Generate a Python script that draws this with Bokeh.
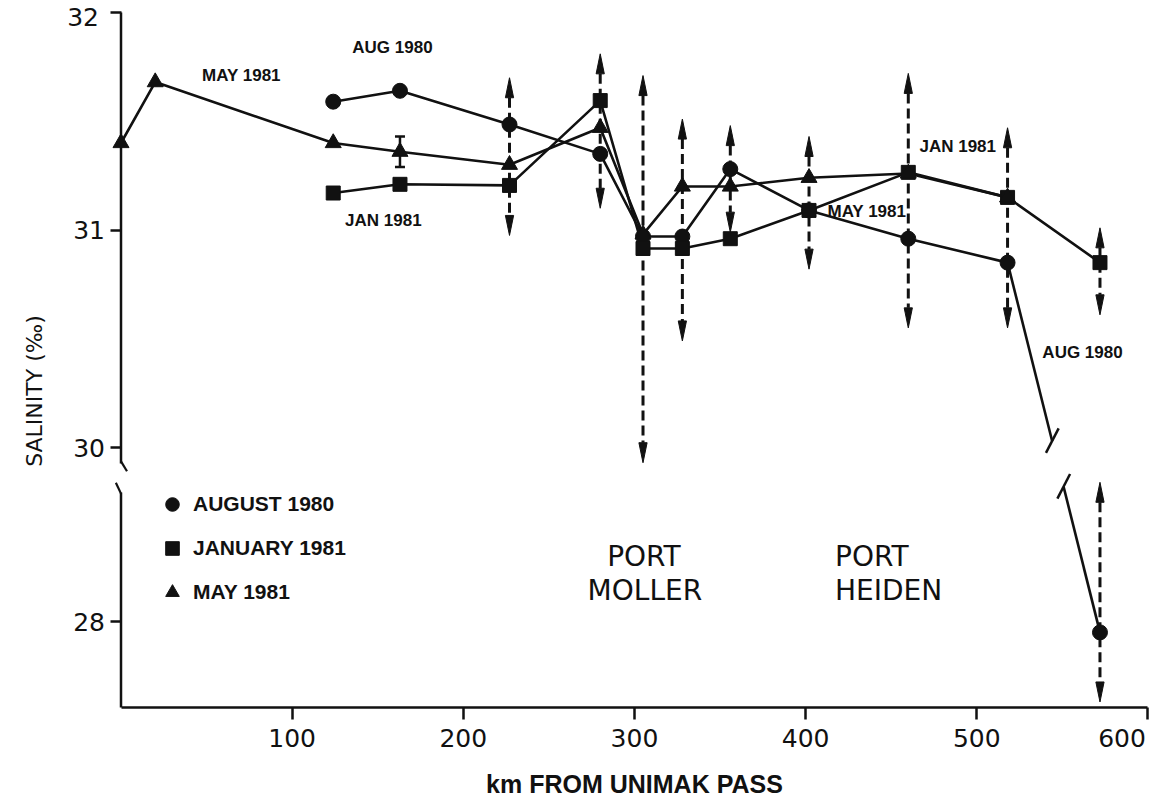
import numpy as np
from bokeh.plotting import figure
from bokeh.models import (Range1d, FixedTicker, Label, Legend, LegendItem,
                          Whisker, TeeHead, ColumnDataSource)
from bokeh.embed import file_html
from bokeh.resources import INLINE

# ---------------- data ----------------
aug_km  = [124, 163, 227, 280, 305, 328, 356, 402, 460, 518, 572]
aug_sal = [31.59, 31.64, 31.485, 31.35, 30.97, 30.97, 31.28, 31.09, 30.96, 30.85, 27.95]

jan_km  = [124, 163, 227, 280, 305, 328, 356, 402, 460, 518, 572]
jan_sal = [31.17, 31.21, 31.205, 31.595, 30.915, 30.915, 30.96, 31.09, 31.265, 31.15, 30.85]

may_km  = [0, 20, 124, 163, 227, 280, 305, 328, 356, 402, 460, 518]
may_sal = [31.40, 31.68, 31.40, 31.36, 31.30, 31.47, 30.98, 31.20, 31.20, 31.24, 31.26, 31.15]

# salinity ranges at stations (dashed double arrows)
range_km   = [227, 280, 305, 328, 356, 402, 460, 518, 572, 572]
range_high = [31.70, 31.81, 31.71, 31.51, 31.48, 31.43, 31.72, 31.47, 31.01, 28.64]
range_low  = [30.975, 31.10, 29.93, 30.49, 30.99, 30.82, 30.55, 30.55, 30.61, 27.63]

# small error bar on May 1981 series
may_err_km = [163]
may_err_hi = [31.43]
may_err_lo = [31.29]

x_ticks = [100, 200, 300, 400, 500, 600]
y_ticks = [28, 30, 31, 32]
legend_labels = ["AUGUST 1980", "JANUARY 1981", "MAY 1981"]

# ---------------- broken axis: display transform ----------------
BREAK = 29.5        # values below this belong to the lower panel
SHIFT = 1.2         # lower panel is raised by this amount
def disp(v):
    v = np.asarray(v, dtype=float)
    return np.where(v >= BREAK, v, v + SHIFT)

# ---------------- layout (the plotting area covers the whole canvas) ----------------
W, H = 1151, 803
PX_PER_KM = 1.7115
X0_PX = 120.5                     # pixel column of km 0 (the y axis)
PX_PER_UNIT = 217.5
Y32_PX = 12                        # pixel row of salinity 32
X_RANGE = (-X0_PX / PX_PER_KM, (W - X0_PX) / PX_PER_KM)
Y_RANGE = (32 - (H - Y32_PX) / PX_PER_UNIT, 32 + Y32_PX / PX_PER_UNIT)

Y_TOP = 32.0
Y_AXIS_REAL = 27.6046            # real salinity at the x axis line
UPPER_AXIS_END = 29.926          # real salinity where upper axis stops
LOWER_AXIS_START_REAL = 28.593   # real salinity where lower axis starts
LINE_BREAK_TOP = 30.03           # display y where Aug line stops above the break
LINE_BREAK_BOT = 29.82           # display y where it restarts below the break
Y_LABEL_BOUNDS = (28.616, 32.0)  # span that centres the y-axis title

INK = "#111111"
FONT = "DejaVu Sans"
BFONT = "Liberation Sans"
Y_AXIS_DISP = float(disp(Y_AXIS_REAL))
Y_LOWER_START = float(disp(LOWER_AXIS_START_REAL))

p = figure(width=W, height=H, x_range=Range1d(*X_RANGE), y_range=Range1d(*Y_RANGE),
           output_backend="svg", toolbar_location=None,
           min_border=0, min_border_left=0, min_border_right=0,
           min_border_top=0, min_border_bottom=0)
p.grid.visible = False
p.outline_line_color = None

# ---- x axis ----
xa = p.xaxis[0]
xa.fixed_location = Y_AXIS_DISP
xa.bounds = (0, 600)
xa.ticker = FixedTicker(ticks=x_ticks)
xa.major_label_overrides = {600: ""}
xa.minor_tick_line_color = None
xa.major_tick_in = 0
xa.major_tick_out = 12
xa.axis_line_width = 2.5
xa.axis_line_color = INK
xa.major_tick_line_width = 2.5
xa.major_tick_line_color = INK
xa.major_label_text_font = FONT
xa.major_label_text_font_size = "25px"
xa.major_label_text_color = INK
xa.major_label_standoff = 10
xa.axis_label = "km FROM UNIMAK PASS"
xa.axis_label_text_font = BFONT
xa.axis_label_text_font_style = "bold"
xa.axis_label_text_font_size = "25px"
xa.axis_label_text_color = INK
xa.axis_label_standoff = 19

# ---- y axis ----
ya = p.yaxis[0]
ya.fixed_location = 0
ya.bounds = Y_LABEL_BOUNDS
ytd = [float(disp(t)) for t in y_ticks]
ya.ticker = FixedTicker(ticks=ytd)
ov = {d: str(t) for d, t in zip(ytd, y_ticks)}
ov[ytd[-1]] = ""
ya.major_label_overrides = ov
ya.minor_tick_line_color = None
ya.major_tick_in = 0
ya.major_tick_out = 11
ya.axis_line_color = None
ya.major_tick_line_width = 2.5
ya.major_tick_line_color = INK
ya.major_label_text_font = FONT
ya.major_label_text_font_size = "25px"
ya.major_label_text_color = INK
ya.major_label_standoff = 5
ya.axis_label = "SALINITY    (‰)"
ya.axis_label_text_font = FONT
ya.axis_label_text_font_style = "normal"
ya.axis_label_text_font_size = "22px"
ya.axis_label_text_color = INK
ya.axis_label_standoff = 24

# top y label sits just under its tick, last x label is right-aligned
p.add_layout(Label(x=0, y=Y_TOP, text="32", text_align="right", text_baseline="top",
                   x_offset=-22, y_offset=5,
                   text_font=FONT, text_font_size="25px", text_color=INK))
p.add_layout(Label(x=600, y=Y_AXIS_DISP, text="600", text_align="right", text_baseline="top",
                   x_offset=-2, y_offset=-22,
                   text_font=FONT, text_font_size="25px", text_color=INK))

# broken left axis line (two pieces) with break hooks
p.segment(x0=[0, 0], x1=[0, 0],
          y0=[UPPER_AXIS_END, Y_AXIS_DISP], y1=[Y_TOP, Y_LOWER_START],
          line_width=2.5, line_color=INK)
p.segment(x0=[0, -3.0], y0=[UPPER_AXIS_END + 0.01, Y_LOWER_START + 0.045],
          x1=[3.5, 0], y1=[UPPER_AXIS_END - 0.035, Y_LOWER_START - 0.005],
          line_width=2.2, line_color=INK)

# ---- dashed range arrows ----
HEAD_L = 0.092   # head length (salinity units)
HEAD_W = 2.4     # head half width (km)
rk = np.array(range_km, float)
rh = disp(range_high)
rl = disp(range_low)
p.segment(x0=rk, x1=rk, y0=rh - HEAD_L, y1=rl + HEAD_L,
          line_width=3, line_color=INK, line_dash="10 5")
xs, ys = [], []
for k, h, l in zip(rk, rh, rl):
    xs.append([k, k - HEAD_W, k + HEAD_W]); ys.append([h, h - HEAD_L, h - HEAD_L])
    xs.append([k, k - HEAD_W, k + HEAD_W]); ys.append([l, l + HEAD_L, l + HEAD_L])
p.patches(xs=xs, ys=ys, fill_color=INK, line_color=INK, line_width=1)

# ---- series lines ----
LW = 2.6
p.line(may_km, disp(may_sal), line_width=LW, line_color=INK)
p.line(jan_km, disp(jan_sal), line_width=LW, line_color=INK)

# August line: break where it crosses the axis gap
ax = np.array(aug_km, float)
ay = disp(aug_sal)
x_a, y_a = ax[-2], ay[-2]
x_b, y_b = ax[-1], ay[-1]
def at_y(yv):
    t = (y_a - yv) / (y_a - y_b)
    return x_a + t * (x_b - x_a)
xt, xb = at_y(LINE_BREAK_TOP), at_y(LINE_BREAK_BOT)
p.line(list(ax[:-1]) + [xt], list(ay[:-1]) + [LINE_BREAK_TOP], line_width=LW, line_color=INK)
p.line([xb, x_b], [LINE_BREAK_BOT, y_b], line_width=LW, line_color=INK)
p.segment(x0=[xt - 3.6, xb - 3.6], y0=[LINE_BREAK_TOP - 0.055, LINE_BREAK_BOT - 0.055],
          x1=[xt + 3.8, xb + 3.8], y1=[LINE_BREAK_TOP + 0.058, LINE_BREAK_BOT + 0.058],
          line_width=2.5, line_color=INK)

# small error bar
src_err = ColumnDataSource(dict(x=may_err_km, hi=may_err_hi, lo=may_err_lo))
p.add_layout(Whisker(base="x", upper="hi", lower="lo", source=src_err, dimension="height",
                     line_width=2.5, line_color=INK,
                     upper_head=TeeHead(size=10, line_width=2.5, line_color=INK),
                     lower_head=TeeHead(size=10, line_width=2.5, line_color=INK)))

# ---- markers ----
r_aug = p.scatter(aug_km, disp(aug_sal), marker="circle", size=15, fill_color=INK, line_color=INK)
r_jan = p.scatter(jan_km, disp(jan_sal), marker="square", size=14, fill_color=INK, line_color=INK)
r_may = p.scatter(may_km, disp(may_sal), marker="triangle", size=16, fill_color=INK, line_color=INK)

# ---- legend ----
leg = Legend(items=[LegendItem(label=legend_labels[0], renderers=[r_aug]),
                    LegendItem(label=legend_labels[1], renderers=[r_jan]),
                    LegendItem(label=legend_labels[2], renderers=[r_may])],
             location=(155, 194), orientation="vertical",
             glyph_width=34, glyph_height=34, label_height=34, spacing=10,
             label_standoff=4, padding=0, margin=0,
             border_line_color=None, background_fill_alpha=0,
             label_text_font=BFONT, label_text_font_style="bold",
             label_text_font_size="21px", label_text_color=INK)
p.add_layout(leg)

# ---- annotations ----
def note(x, y, text, size="17px", bold=True, align="center"):
    p.add_layout(Label(x=x, y=y, text=text, text_align=align, text_baseline="middle",
                       text_font=BFONT if bold else FONT,
                       text_font_style="bold" if bold else "normal",
                       text_font_size=size, text_color=INK))

note(70.4, 31.71, "MAY 1981")
note(158.6, 31.84, "AUG 1980")
note(153.3, 31.044, "JAN 1981")
note(488.9, 31.384, "JAN 1981")
note(435.8, 31.085, "MAY 1981")
note(561.8, 30.437, "AUG 1980")
note(305.5, 29.499, "PORT", size="28px", bold=False)
note(306.1, 29.343, "MOLLER", size="28px", bold=False)
note(417.2, 29.499, "PORT", size="28px", bold=False, align="left")
note(417.2, 29.343, "HEIDEN", size="28px", bold=False, align="left")

open("out.html", "w").write(file_html(p, INLINE))
